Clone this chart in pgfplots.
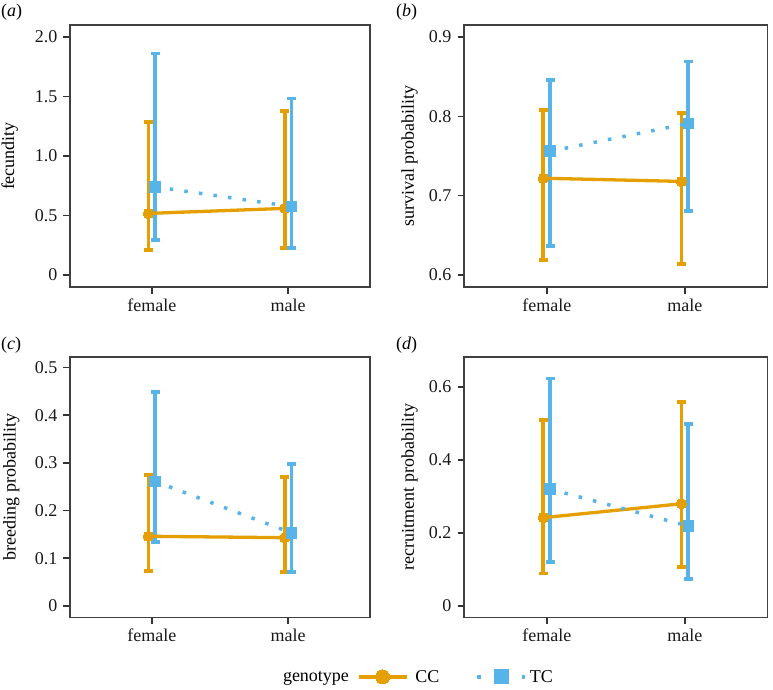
\documentclass[border=0pt]{standalone}
\usepackage{fontspec}
\setmainfont{Liberation Serif}
\usepackage{pgfplots}
\usepackage{pgfplotstable}
\pgfplotsset{compat=1.18}
\definecolor{cco}{HTML}{E69F00}
\definecolor{tcb}{HTML}{56B4E9}

% panel (a) fecundity
\pgfplotstableread{
x y lo hi
0.975 0.518 0.210 1.286
1.975 0.560 0.226 1.378
}\ccA
\pgfplotstableread{
x y lo hi
1.025 0.741 0.296 1.860
2.025 0.576 0.226 1.482
}\tcA
% panel (b) survival
\pgfplotstableread{
x y lo hi
0.975 0.722 0.619 0.808
1.975 0.718 0.614 0.804
}\ccB
\pgfplotstableread{
x y lo hi
1.025 0.756 0.637 0.846
2.025 0.791 0.681 0.869
}\tcB
% panel (c) breeding
\pgfplotstableread{
x y lo hi
0.975 0.146 0.073 0.274
1.975 0.143 0.071 0.270
}\ccC
\pgfplotstableread{
x y lo hi
1.025 0.261 0.134 0.449
2.025 0.153 0.071 0.297
}\tcC
% panel (d) recruitment
\pgfplotstableread{
x y lo hi
0.975 0.242 0.089 0.509
1.975 0.280 0.107 0.558
}\ccD
\pgfplotstableread{
x y lo hi
1.025 0.320 0.120 0.623
2.025 0.219 0.074 0.499
}\tcD

\newcommand{\fs}{\fontsize{18}{21}\selectfont}

\pgfplotsset{
  panel/.style={
    scale only axis, xmin=0.4, xmax=2.6,
    xtick={1,2}, xticklabels={female,male},
    axis line style={draw=black!75, line width=1.3pt},
    every tick/.style={draw=black!80, line width=1.4pt},
    major tick length=6.5pt, tick align=outside,
    xtick pos=bottom, ytick pos=left,
    ticklabel style={font=\fs, text=black!90},
    yticklabel style={xshift=-2.5pt},
    xticklabel style={yshift=-1.5pt},
    every axis y label/.style={at={(axis description cs:#1,0.5)}, rotate=90, anchor=south, inner sep=0pt, font=\fs},
    clip=false,
  },
  ebar/.style={draw=none, mark=none, forget plot,
    error bars/.cd, y dir=both, y explicit,
    error bar style={draw=#1, line width=3.8pt},
    error mark options={rotate=90, draw=#1, line width=3.6pt, mark size=4.4pt}},
}

\newcommand{\panelplots}[2]{%
  \addplot[ebar=cco] table[x=x,y=y,y error plus expr=\thisrow{hi}-\thisrow{y},y error minus expr=\thisrow{y}-\thisrow{lo}] {#1};
  \addplot[ebar=tcb] table[x=x,y=y,y error plus expr=\thisrow{hi}-\thisrow{y},y error minus expr=\thisrow{y}-\thisrow{lo}] {#2};
  \addplot[cco, line width=3.3pt, mark=none, forget plot] table[x=x,y=y] {#1};
  \addplot[tcb, line width=3.5pt, dash pattern=on 3.5pt off 11.2pt, mark=none, forget plot] table[x=x,y=y] {#2};
  \addplot[cco, only marks, mark=*, mark size=5.2pt, mark options={solid, fill=cco, draw=cco, line width=0pt}, forget plot] table[x=x,y=y] {#1};
  \addplot[tcb, only marks, mark=square*, mark size=5.3pt, mark options={solid, fill=tcb, draw=tcb, line width=0pt}, forget plot] table[x=x,y=y] {#2};
}

\begin{document}
\begin{tikzpicture}
\path[use as bounding box] (0,0) rectangle (773pt,-689pt);

\begin{axis}[panel=-0.173, at={(70pt,-25pt)}, anchor=north west,
  width=300pt, height=262pt, ymin=-0.1, ymax=2.1,
  ytick={0,0.5,1,1.5,2}, yticklabels={0,0.5,1.0,1.5,2.0},
  ylabel={fecundity}]
\panelplots{\ccA}{\tcA}
\end{axis}

\begin{axis}[panel=-0.152, at={(464pt,-25pt)}, anchor=north west,
  width=303.7pt, height=262pt, ymin=0.585, ymax=0.915,
  ytick={0.6,0.7,0.8,0.9}, yticklabels={0.6,0.7,0.8,0.9},
  ylabel={survival probability}]
\panelplots{\ccB}{\tcB}
\end{axis}

\begin{axis}[panel=-0.168, at={(70pt,-357pt)}, anchor=north west,
  width=300pt, height=260.3pt, ymin=-0.024, ymax=0.522,
  ytick={0,0.1,0.2,0.3,0.4,0.5}, yticklabels={0,0.1,0.2,0.3,0.4,0.5},
  ylabel={breeding probability},
  legend columns=3,
  legend style={at={(axis description cs:0.7,-0.229)}, anchor=west, draw=none, fill=none,
    inner sep=0pt, outer sep=0pt,
    font=\fs, nodes={inner sep=0pt},
    /tikz/every odd column/.append style={column sep=3pt},
    /tikz/every even column/.append style={column sep=0pt}},
  legend image code/.code={\draw[mark repeat=2,mark phase=2] plot coordinates {(0pt,0pt) (24pt,0pt) (48pt,0pt)};}]
\panelplots{\ccC}{\tcC}
\addlegendimage{empty legend}
\addlegendentry{genotype\hspace*{8pt}\null}
\addlegendimage{cco, line width=3.3pt, mark=*, mark size=7pt, mark options={solid, fill=cco, draw=cco, line width=0pt}}
\addlegendentry{\null\hspace*{4pt}CC\hspace*{36pt}\null}
\addlegendimage{tcb, line width=3.5pt, dash pattern=on 3.5pt off 18.75pt, mark=square*, mark size=7pt, mark options={solid, fill=tcb, draw=tcb, line width=0pt}}
\addlegendentry{TC}
\end{axis}

\begin{axis}[panel=-0.152, at={(464pt,-357pt)}, anchor=north west,
  width=303.7pt, height=260.3pt, ymin=-0.031, ymax=0.682,
  ytick={0,0.2,0.4,0.6}, yticklabels={0,0.2,0.4,0.6},
  ylabel={recruitment probability}]
\panelplots{\ccD}{\tcD}
\end{axis}

\node[anchor=west, inner sep=0pt, font=\fs] at (1pt,-12pt) {(\textit{a})};
\node[anchor=west, inner sep=0pt, font=\fs] at (396pt,-12pt) {(\textit{b})};
\node[anchor=west, inner sep=0pt, font=\fs] at (1pt,-345pt) {(\textit{c})};
\node[anchor=west, inner sep=0pt, font=\fs] at (396pt,-345pt) {(\textit{d})};
\end{tikzpicture}
\end{document}
